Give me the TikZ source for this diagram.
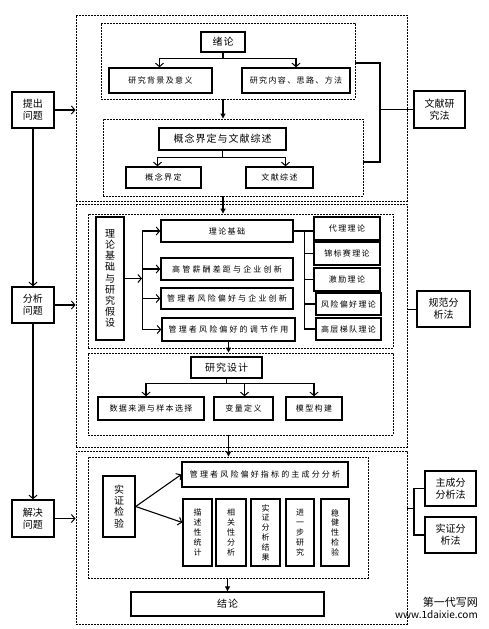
\documentclass[tikz,border=0pt]{standalone}
\usepackage{fontspec}
\setmainfont{Noto Sans CJK SC}
\newfontfamily\cjk{Noto Sans CJK SC}
\newfontfamily\cjkA[LetterSpace=17]{Noto Sans CJK SC}
\newfontfamily\cjkB[LetterSpace=27]{Noto Sans CJK SC}
\newfontfamily\cjkC[LetterSpace=10]{Noto Sans CJK SC}
\usetikzlibrary{arrows.meta}
\tikzset{
  box/.style={draw, line width=1.4pt, inner sep=0pt, align=center},
  dbox/.style={draw, line width=0.9pt, dash pattern=on 2pt off 1pt, inner sep=0pt},
  conn/.style={line width=1.1pt},
  thinconn/.style={line width=0.8pt},
  oarr/.style={conn, -{Straight Barb[length=3.5pt,width=8pt,line width=1pt]}},
  farr/.style={conn, -{Triangle[length=5pt,width=5pt]}},
  fA/.style={font=\cjkA\fontsize{8}{9.8}\selectfont},
  fB/.style={font=\cjkB\fontsize{8}{9.8}\selectfont},
  fL/.style={font=\cjkC\fontsize{10}{12}\selectfont},
  fM/.style={font=\cjk\fontsize{10}{12}\selectfont},
  fV/.style={font=\cjk\fontsize{10}{11.1}\selectfont},
  fS/.style={font=\cjk\fontsize{8}{9.8}\selectfont},
}
\newcommand\mybox[7][]{%
  \pgfmathsetmacro\mbcx{(#3+#5)/2}\pgfmathsetmacro\mbcy{(#4+#6)/2}%
  \pgfmathsetmacro\mbw{#5-#3}\pgfmathsetmacro\mbh{#6-#4}%
  \node[#1,minimum width=\mbw pt,minimum height=\mbh pt] (#2) at (\mbcx,\mbcy) {#7};}
\begin{document}
\begin{tikzpicture}[x=1pt,y=-1pt]
\useasboundingbox (0,0) rectangle (489,629);
% outer dashed boxes
\mybox[dbox]{O1}{76}{15}{407}{201}{}
\mybox[dbox]{O2}{76}{204}{407}{447}{}
\mybox[dbox]{O3}{76}{451}{407}{624}{}
% inner dashed boxes
\mybox[dbox]{I1a}{101}{23}{355}{99}{}
\mybox[dbox]{I1b}{103}{119}{363}{196}{}
\mybox[dbox]{I2a}{88}{214}{393}{348}{}
\mybox[dbox]{I2b}{88}{353}{393}{435}{}
\mybox[dbox]{I3a}{88}{457}{368}{578}{}
% part 1
\mybox[box,fL]{xl}{201}{32}{245}{52}{绪论}
\mybox[box,fA]{bj}{109}{68}{212}{93}{研究背景及意义}
\mybox[box,fA]{nr}{242}{68}{350}{93}{研究内容、思路、方法}
\mybox[box,fL]{gn}{159}{128}{286}{150}{概念界定与文献综述}
\mybox[box,fA]{gj}{126}{167}{201}{188}{概念界定}
\mybox[box,fA]{ws}{246}{167}{313}{188}{文献综述}
\mybox[box,fM]{tc}{12}{92}{54}{128}{提出\\问题}
\mybox[box,fM]{wx}{414}{91}{465}{128}{文献研\\究法}
% part 2
\mybox[box,fV]{ll}{96}{217}{124}{340}{理\\论\\基\\础\\与\\研\\究\\假\\设}
\mybox[box,fA]{jc}{161}{220}{293}{242}{理论基础}
\mybox[box,fB]{g1}{161}{258}{293}{280}{高管薪酬差距与企业创新}
\mybox[box,fB]{g2}{161}{288}{293}{309}{管理者风险偏好与企业创新}
\mybox[box,fB]{g3}{162}{318}{295}{341}{管理者风险偏好的调节作用}
\mybox[box,fA]{t1}{314}{217}{380}{240}{代理理论}
\mybox[box,fA]{t2}{314}{242}{380}{265}{锦标赛理论}
\mybox[box,fA]{t3}{314}{268}{380}{291}{激励理论}
\mybox[box,fA]{t4}{316}{293}{381}{315}{风险偏好理论}
\mybox[box,fA]{t5}{316}{318}{381}{340}{高层梯队理论}
\mybox[box,fM]{fx}{12}{287}{54}{323}{分析\\问题}
\mybox[box,fM]{gf}{417}{291}{470}{327}{规范分\\析法}
\mybox[box,fL]{sj}{191}{357}{262}{378}{研究设计}
\mybox[box,fA]{d1}{98}{397}{204}{420}{数据来源与样本选择}
\mybox[box,fA]{d2}{214}{397}{273}{420}{变量定义}
\mybox[box,fA]{d3}{286}{397}{342}{420}{模型构建}
% part 3
\mybox[box,fV]{sz}{103}{476}{135}{537}{实\\证\\检\\验}
\mybox[box,fB]{zc}{182}{462}{348}{487}{管理者风险偏好指标的主成分分析}
\mybox[box,fS]{v1}{183}{499}{212}{566}{描\\述\\性\\统\\计}
\mybox[box,fS]{v2}{216}{499}{246}{566}{相\\关\\性\\分\\析}
\mybox[box,fS]{v3}{251}{499}{280}{566}{实\\证\\分\\析\\结\\果}
\mybox[box,fS]{v4}{286}{499}{314}{566}{进\\一\\步\\研\\究}
\mybox[box,fS]{v5}{321}{499}{349}{566}{稳\\健\\性\\检\\验}
\mybox[box,fL]{jl}{131}{592}{324}{616}{结论}
\mybox[box,fM]{jj}{12}{500}{54}{537}{解决\\问题}
\mybox[box,fM]{zf}{425}{471}{476}{506}{主成分\\分析法}
\mybox[box,fM]{sf}{425}{517}{476}{553}{实证分\\析法}
% watermark
\node[font=\cjk\fontsize{11}{12}\selectfont, anchor=east, inner sep=0pt] (wm1) at (478,602) {第一代写网};
\node[font=\cjk\fontsize{10}{12}\selectfont, anchor=east, inner sep=0pt] (wm2) at (478,615) {www.1daixie.com};
% connectors part 1
\draw[oarr] (xl.south) -- ++(0,6) -| ([xshift=-1pt]bj.north);
\draw[oarr] (xl.south) -- ++(0,6) -| (nr.north);
\draw[farr] (xl.south |- I1a.south) -- (xl.south |- I1b.north);
\draw[oarr] (gn.south) -- ++(0,7) -| ([xshift=-6pt]gj.north);
\draw[oarr] (gn.south) -- ++(0,7) -| ([xshift=6pt]ws.north);
\draw[farr] (xl.south |- I1b.south) -- (xl.south |- I2a.north);
\draw[oarr] (tc.east) -- (tc.east -| O1.west);
\draw[oarr] (tc.south) -- (fx.north);
\draw[oarr] (fx.south) -- (jj.north);
\draw[oarr] (fx.east) -- (fx.east -| O2.west);
\draw[oarr] (jj.east) -- (jj.east -| O3.west);
\coordinate (b1) at (380,63);
\coordinate (b2) at (380,162);
\draw[conn] (b1 -| I1a.east) -- (b1) -- (b2) -- (b2 -| I1b.east);
\draw[thinconn] (wx.west) -- (wx.west -| b1);
% connectors part 2
\coordinate (v) at (142,278.5);
\draw[oarr] (ll.east) -- (v);
\draw[thinconn] (jc.west -| v) -- (g3.west -| v);
\draw[oarr] (jc.west -| v) -- (jc.west);
\draw[oarr] (g1.west -| v) -- (g1.west);
\draw[oarr] (g2.west -| v) -- (g2.west);
\draw[oarr] (g3.west -| v) -- (g3.west);
\coordinate (w) at (304,231);
\draw[conn] (jc.east) -- (jc.east -| t1.west);
\draw[thinconn] (w) -- (w |- t5.west);
\draw[conn] (w |- t2.west) -- (t2.west);
\draw[conn] (w |- t3.west) -- (t3.west);
\draw[conn] (w |- t4.west) -- (t4.west);
\draw[conn] (w |- t5.west) -- (t5.west);
\draw[thinconn] (gf.west -| O2.east) -- (gf.west);
\draw[farr] (g3.south) -- (g3.south |- I2b.north);
\draw[oarr] (sj.south) -- ++(0,5) -| ([xshift=-5pt]d1.north);
\draw[oarr] (sj.south) -- ++(0,5) -| ([xshift=1pt]d2.north);
\draw[oarr] (sj.south) -- ++(0,5) -| (d3.north);
% connectors part 3
\draw[farr] (g3.south |- I2b.south) -- (g3.south |- I3a.north);
\draw[oarr] (sz.east) -- (zc.west);
\draw[oarr] (sz.east) -- ([yshift=10pt]v1.west);
\draw[farr] (jl.north |- I3a.south) -- (jl.north);
\coordinate (c) at (414,508);
\draw[thinconn] (c -| O3.east) -- (c);
\draw[conn] (zf.west) -- (zf.west -| c) -- (sf.west -| c) -- (sf.west);
\end{tikzpicture}
\end{document}
